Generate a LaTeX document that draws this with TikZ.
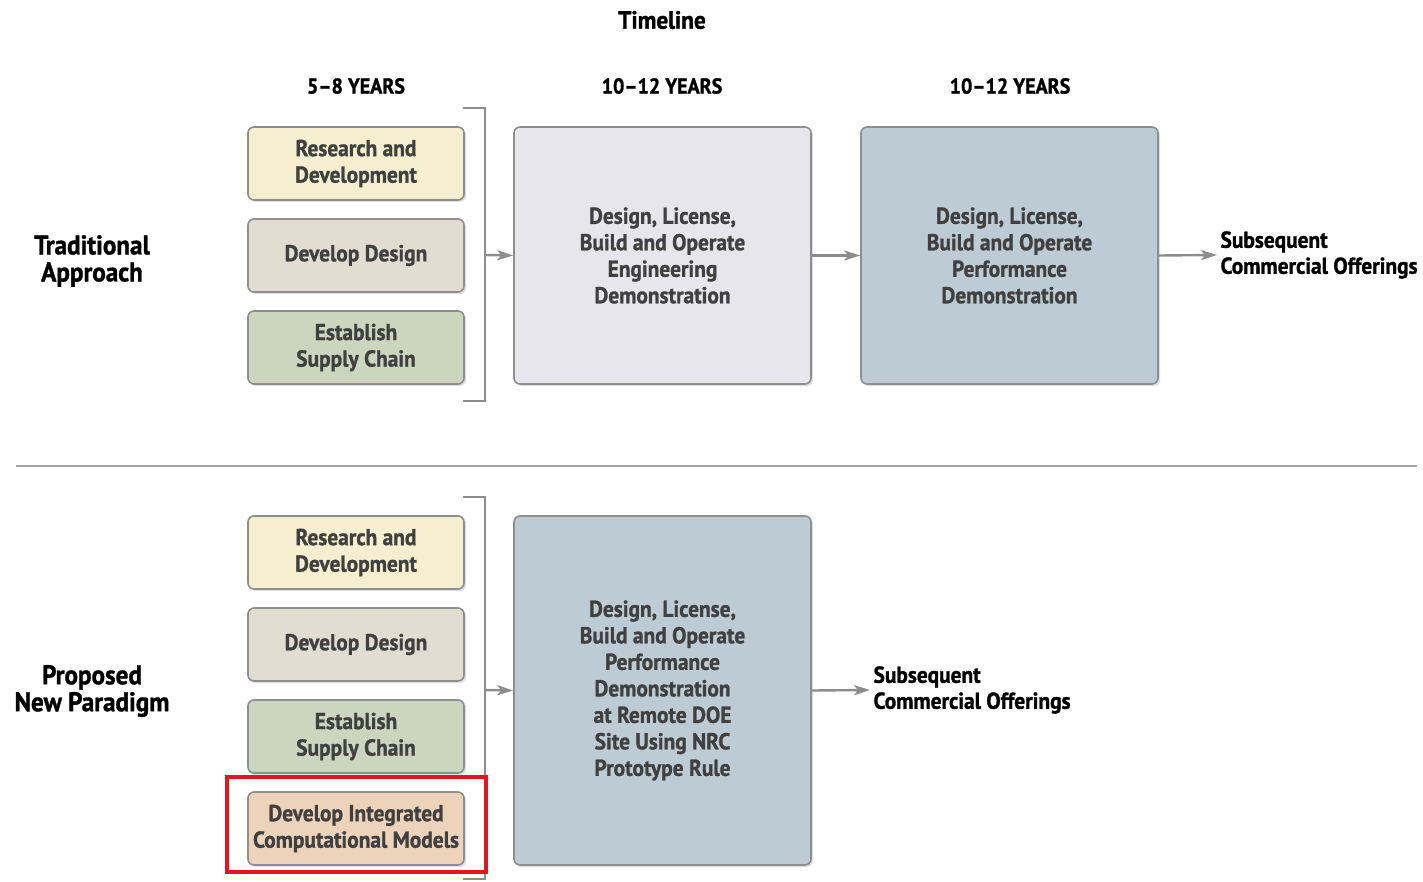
\documentclass[tikz,border=0pt]{standalone}
\usepackage{fontspec}
\setmainfont{PT Sans Bold}[FakeStretch=0.93, FakeBold=1.2]
\usetikzlibrary{arrows.meta,shadows}
\definecolor{rdfill}{HTML}{F5EFCF}
\definecolor{ddfill}{HTML}{E1DED1}
\definecolor{scfill}{HTML}{CCD6BF}
\definecolor{icfill}{HTML}{EDD3BA}
\definecolor{engfill}{HTML}{E6E6EC}
\definecolor{perffill}{HTML}{BDCCD4}
\definecolor{boxline}{HTML}{8E8E8E}
\definecolor{boxtext}{HTML}{404040}
\definecolor{conncol}{HTML}{8C8C8C}
\definecolor{redbox}{HTML}{E8141B}
\tikzset{
  x=1pt, y=-1pt,
  smallbox/.style={draw=boxline, line width=1.6pt, rounded corners=6pt, minimum width=216pt, minimum height=73pt,
    inner sep=0pt, align=center, text=boxtext, font=\fontsize{23}{26.5}\selectfont,
    drop shadow={shadow xshift=2pt, shadow yshift=-2pt, opacity=0.25}},
  bigbox/.style={smallbox, minimum width=297pt, minimum height=257pt},
  connector/.style={draw=conncol, line width=2.4pt, -{Stealth[length=16pt,width=10pt,inset=4pt]}},
  brk/.style={draw=conncol, line width=2.2pt},
  header/.style={font=\fontsize{21.5}{26}\selectfont, text=black},
  side/.style={font=\fontsize{27}{27}\selectfont, text=black, align=center},
  outtext/.style={font=\fontsize{23}{26}\selectfont, text=black, align=left, anchor=west}
}
\begin{document}
\begin{tikzpicture}
\useasboundingbox (0,0) rectangle (1423,882);
\node[header, font=\fontsize{25}{28}\selectfont] (timeline) at (662,20) {Timeline};
\node[header] (h1) at (356,86) {5–8 YEARS};
\node[header] (h2) at (662,86) {10–12 YEARS};
\node[header] (h3) at (1010,86) {10–12 YEARS};

% traditional
\node[side] (trad) at (92,261) {Traditional\\Approach};
\node[smallbox, fill=rdfill] (rd1) at (356,163.5) {Research and\\Development};
\node[smallbox, fill=ddfill] (dd1) at (356,255.5) {Develop Design};
\node[smallbox, fill=scfill] (sc1) at (356,347.5) {Establish\\Supply Chain};
\coordinate (b1t) at (463,108);
\coordinate (b1b) at (463,401);
\coordinate (b1m) at (485,255);
\draw[brk] (b1t) -- (485,108) -- (485,401) -- (b1b);
\node[bigbox, fill=engfill] (eng) at (662.5,255.5) {Design, License,\\Build and Operate\\Engineering\\Demonstration};
\node[bigbox, fill=perffill] (perf) at (1009.5,255.5) {Design, License,\\Build and Operate\\Performance\\Demonstration};
\node[outtext] (out1) at (1217,255) {Subsequent\\Commercial Offerings};
\draw[connector] (b1m) -- (eng.west);
\draw[connector] (eng.east) -- (perf.west);
\draw[connector] (perf.east) -- (out1.west);

% divider
\coordinate (dl) at (16,466);
\coordinate (dr) at (1417,466);
\draw[draw=conncol!80, line width=2pt] (dl) -- (dr);

% proposed
\node[side] (prop) at (92,691) {Proposed\\New Paradigm};
\node[smallbox, fill=rdfill] (rd2) at (356,552.5) {Research and\\Development};
\node[smallbox, fill=ddfill] (dd2) at (356,644.5) {Develop Design};
\node[smallbox, fill=scfill] (sc2) at (356,736.5) {Establish\\Supply Chain};
\node[smallbox, fill=icfill] (ic2) at (356,828.5) {Develop Integrated\\Computational Models};
\coordinate (b2t) at (463,497);
\coordinate (b2b) at (463,879);
\coordinate (b2m) at (485,690);
\draw[brk] (b2t) -- (485,497) -- (485,879) -- (b2b);
\node[bigbox, fill=perffill, minimum height=349pt] (perf2) at (662.5,690.5) {Design, License,\\Build and Operate\\Performance\\Demonstration\\at Remote DOE\\Site Using NRC\\Prototype Rule};
\node[outtext] (out2) at (870,690) {Subsequent\\Commercial Offerings};
\draw[connector] (b2m) -- (perf2.west);
\draw[connector] (perf2.east) -- (out2.west);
\draw[draw=redbox, line width=4.5pt] (227,777) rectangle (486,872);
\end{tikzpicture}
\end{document}
